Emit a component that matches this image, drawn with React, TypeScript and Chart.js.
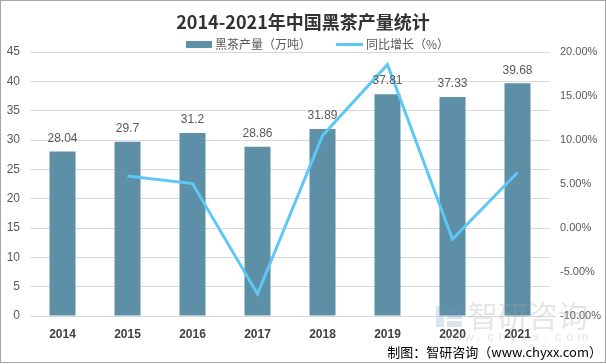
import React, { useEffect, useRef } from "react";
import Chart from "chart.js/auto";

const years = ["2014", "2015", "2016", "2017", "2018", "2019", "2020", "2021"];
const output = [28.04, 29.7, 31.2, 28.86, 31.89, 37.81, 37.33, 39.68];
const growth: (number | null)[] = [null, 5.92, 5.05, -7.5, 10.5, 18.56, -1.27, 6.3];
const titleText = "2014-2021年中国黑茶产量统计";
const barLabel = "黑茶产量（万吨）";
const lineLabel = "同比增长（%）";
const footerText = "制图：智研咨询（www.chyxx.com）";

const BAR_COLOR = "#5D8FA7";
const LINE_COLOR = "#5EC8F4";
const FONT = "'Liberation Sans', 'Noto Sans CJK SC', sans-serif";
const CJK = "'Noto Sans CJK SC', 'Liberation Sans', sans-serif";

const decorPlugin = {
  id: "decor",
  afterDatasetsDraw(chart: any) {
    const ctx = chart.ctx as CanvasRenderingContext2D;
    const meta = chart.getDatasetMeta(0);
    ctx.save();
    ctx.fillStyle = "#595959";
    ctx.font = `12px ${FONT}`;
    ctx.textAlign = "center";
    ctx.textBaseline = "middle";
    meta.data.forEach((el: any, i: number) => {
      ctx.fillText(String(output[i]), el.x, el.y - 13);
    });
    ctx.restore();
  },
  afterDraw(chart: any) {
    const ctx = chart.ctx as CanvasRenderingContext2D;
    ctx.save();
    // title
    ctx.fillStyle = "#333333";
    ctx.font = `bold 18px ${CJK}`;
    ctx.textAlign = "center";
    ctx.textBaseline = "middle";
    ctx.fillText(titleText, 303, 22);
    // legend
    ctx.font = `12px ${CJK}`;
    ctx.textAlign = "left";
    ctx.fillStyle = BAR_COLOR;
    ctx.fillRect(186, 41, 26, 7);
    ctx.fillStyle = "#595959";
    ctx.fillText(barLabel, 215, 44);
    ctx.strokeStyle = LINE_COLOR;
    ctx.lineWidth = 3;
    ctx.beginPath();
    ctx.moveTo(336, 44.5);
    ctx.lineTo(363, 44.5);
    ctx.stroke();
    ctx.fillStyle = "#595959";
    ctx.fillText(lineLabel, 366, 44);
    // watermark
    ctx.fillStyle = "rgba(160,160,160,0.28)";
    ctx.font = `30px ${CJK}`;
    ctx.fillText("智研咨询", 468, 316);
    ctx.font = `13px ${FONT}`;
    const wm = "www.chyxx.com";
    for (let i = 0; i < wm.length; i++) {
      ctx.fillText(wm[i], 442 + i * 11.3, 337);
    }
    ctx.fillStyle = "rgba(110,150,190,0.25)";
    ctx.fillRect(436, 306, 8, 21);
    ctx.fillRect(447, 306, 15, 6);
    ctx.fillRect(447, 314, 15, 5);
    ctx.fillRect(447, 321, 15, 6);
    // footer
    ctx.fillStyle = "#000000";
    ctx.font = `13px ${CJK}`;
    ctx.textAlign = "right";
    ctx.fillText(footerText, 602, 352);
    // border
    ctx.strokeStyle = "#A6A6A6";
    ctx.lineWidth = 1;
    ctx.strokeRect(0.5, 0.5, 605, 362);
    ctx.restore();
  },
};

export default function App() {
  const ref = useRef<HTMLCanvasElement | null>(null);
  useEffect(() => {
    if (!ref.current) return;
    const chart = new Chart(ref.current, {
      type: "bar",
      data: {
        labels: years,
        datasets: [
          {
            type: "bar",
            label: barLabel,
            data: output,
            backgroundColor: BAR_COLOR,
            yAxisID: "y",
            categoryPercentage: 1,
            barPercentage: 0.4,
            order: 1,
          },
          {
            type: "line",
            label: lineLabel,
            data: growth,
            borderColor: LINE_COLOR,
            backgroundColor: LINE_COLOR,
            borderWidth: 3,
            pointRadius: 0,
            tension: 0,
            yAxisID: "y1",
            order: 0,
          } as any,
        ],
      },
      options: {
        animation: false,
        responsive: false,
        layout: { padding: { top: 52, left: 0, right: 0, bottom: 0 } },
        plugins: {
          legend: { display: false },
          title: { display: false },
          tooltip: { enabled: false },
        },
        scales: {
          x: {
            grid: { display: false },
            border: { display: false },
            ticks: {
              color: "#404040",
              font: { family: FONT, size: 12, weight: "bold" },
              padding: 3,
            },
            afterFit: (s: any) => {
              s.height = 48;
            },
          },
          y: {
            position: "left",
            min: 0,
            max: 45,
            ticks: {
              stepSize: 5,
              color: "#595959",
              font: { family: FONT, size: 12 },
              padding: 10,
            },
            grid: { color: "#D9D9D9", drawTicks: false },
            border: { display: false },
            afterFit: (s: any) => {
              s.width = 30;
            },
          },
          y1: {
            position: "right",
            min: -10,
            max: 20,
            ticks: {
              stepSize: 5,
              color: "#595959",
              font: { family: FONT, size: 11 },
              padding: 10,
              callback: (v: any) => Number(v).toFixed(2) + "%",
            },
            grid: { display: false, drawTicks: false },
            border: { display: false },
            afterFit: (s: any) => {
              s.width = 56;
            },
          },
        },
      },
      plugins: [decorPlugin],
    });
    return () => chart.destroy();
  }, []);
  return (
    <div style={{ position: "absolute", left: 0, top: 0, width: 606, height: 364, background: "#fff" }}>
      <canvas ref={ref} width={606} height={364} style={{ width: 606, height: 364 }} />
    </div>
  );
}
